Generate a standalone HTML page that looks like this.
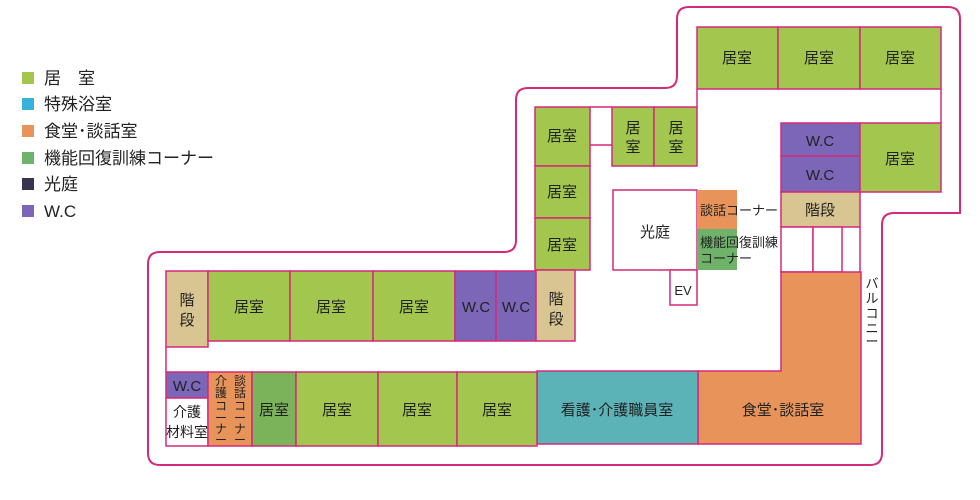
<!DOCTYPE html>
<html><head><meta charset="utf-8"><style>
body{margin:0;background:#fff;width:980px;height:500px;overflow:hidden}
svg{display:block}
text{font-family:"Liberation Sans","Noto Sans CJK JP",sans-serif;fill:#222}
</style></head><body>
<svg width="980" height="500" viewBox="0 0 980 500">
<g font-size="17">
<rect x="22" y="72" width="12" height="12" fill="#a3c64f"/><text x="44" y="84">居　室</text>
<rect x="22" y="98" width="12" height="12" fill="#3ab0dc"/><text x="44" y="110">特殊浴室</text>
<rect x="22" y="125" width="12" height="12" fill="#e8935a"/><text x="44" y="137">食堂･談話室</text>
<rect x="22" y="152" width="12" height="12" fill="#6fb36a"/><text x="44" y="164">機能回復訓練コーナー</text>
<rect x="22" y="178" width="12" height="12" fill="#3a3450"/><text x="44" y="190">光庭</text>
<rect x="22" y="205" width="12" height="12" fill="#7b66b8"/><text x="44" y="217">W.C</text>
</g>
<path d="M148,264 Q148,252 160,252 L504,252 Q516,252 516,240 L516,100 Q516,88 528,88 L665,88 Q677,88 677,76 L677,19 Q677,7 689,7 L948,7 Q960,7 960,19 L960,213 L894,213 Q882,213 882,225 L882,453 Q882,465 870,465 L160,465 Q148,465 148,453 Z" fill="none" stroke="#d42a7a" stroke-width="2"/>
<g stroke="#d42a7a" stroke-width="1.5">
<rect x="697" y="27" width="81" height="62" fill="#a3c64f"/>
<rect x="778" y="27" width="82" height="62" fill="#a3c64f"/>
<rect x="860" y="27" width="81" height="62" fill="#a3c64f"/>
<line x1="941" y1="89" x2="941" y2="123"/>
<line x1="697" y1="89" x2="697" y2="107"/>
<rect x="535" y="107" width="55" height="59" fill="#a3c64f"/>
<rect x="535" y="166" width="55" height="52" fill="#a3c64f"/>
<rect x="535" y="218" width="55" height="52" fill="#a3c64f"/>
<line x1="590" y1="107" x2="612" y2="107"/>
<line x1="590" y1="145" x2="612" y2="145"/>
<rect x="612" y="107" width="42" height="59" fill="#a3c64f"/>
<rect x="654" y="107" width="43" height="59" fill="#a3c64f"/>
<rect x="613" y="190" width="84" height="80" fill="#fff"/>
<rect x="670" y="270" width="27" height="35" fill="#fff"/>
<rect x="697" y="190" width="40" height="39" fill="#e8935a" stroke="none"/>
<rect x="697" y="229" width="40" height="41" fill="#6fb36a" stroke="none"/>
<rect x="781" y="123" width="79" height="33" fill="#7b66b8"/>
<rect x="781" y="156" width="79" height="36" fill="#7b66b8"/>
<rect x="860" y="123" width="81" height="69" fill="#a3c64f"/>
<rect x="781" y="192" width="79" height="35" fill="#d8c592"/>
<rect x="781" y="227" width="32" height="45" fill="#fff"/>
<rect x="813" y="227" width="29" height="45" fill="#fff"/>
<line x1="860" y1="227" x2="860" y2="272"/>
<path d="M781,272 L861,272 L861,444 L698,444 L698,371 L781,371 Z" fill="#e8935a"/>
<rect x="537" y="371" width="161" height="73" fill="#5bb3b8"/>
<rect x="166" y="271" width="42" height="76" fill="#d8c592"/>
<rect x="208" y="271" width="82" height="70" fill="#a3c64f"/>
<rect x="290" y="271" width="83" height="70" fill="#a3c64f"/>
<rect x="373" y="271" width="82" height="70" fill="#a3c64f"/>
<rect x="455" y="271" width="41" height="70" fill="#7b66b8"/>
<rect x="496" y="271" width="40" height="70" fill="#7b66b8"/>
<rect x="536" y="270" width="39" height="71" fill="#d8c592"/>
<line x1="166" y1="347" x2="166" y2="372"/>
<rect x="166" y="372" width="42" height="26" fill="#7b66b8"/>
<rect x="166" y="398" width="42" height="48" fill="#fff"/>
<rect x="208" y="372" width="44" height="74" fill="#e8935a"/>
<rect x="252" y="372" width="44" height="74" fill="#7ab35a"/>
<rect x="296" y="372" width="82" height="74" fill="#a3c64f"/>
<rect x="378" y="372" width="79" height="74" fill="#a3c64f"/>
<rect x="457" y="372" width="80" height="74" fill="#a3c64f"/>
</g>
<g font-size="15" text-anchor="middle">
<text x="737" y="63">居室</text><text x="819" y="63">居室</text><text x="900" y="63">居室</text>
<text x="562" y="141">居室</text><text x="562" y="197">居室</text><text x="562" y="250">居室</text>
<text x="633" y="133">居</text><text x="633" y="152">室</text>
<text x="676" y="133">居</text><text x="676" y="152">室</text>
<text x="655" y="237">光庭</text>
<text x="683" y="295" font-size="13">EV</text>
<text x="820" y="146">W.C</text><text x="820" y="180">W.C</text>
<text x="900" y="164">居室</text>
<text x="820" y="215">階段</text>
<text x="783" y="415">食堂･談話室</text>
<text x="617" y="415">看護･介護職員室</text>
<text x="187" y="305">階</text><text x="187" y="325">段</text>
<text x="249" y="312">居室</text><text x="331" y="312">居室</text><text x="414" y="312">居室</text>
<text x="476" y="312">W.C</text><text x="516" y="312">W.C</text>
<text x="556" y="304">階</text><text x="556" y="324">段</text>
<text x="187" y="391">W.C</text>
<text x="187" y="417" font-size="14">介護</text><text x="187" y="437" font-size="14">材料室</text>
<text x="274" y="415">居室</text><text x="337" y="415">居室</text><text x="417" y="415">居室</text><text x="497" y="415">居室</text>
</g>
<g font-size="13">
<text x="700" y="215">談話コーナー</text>
<text x="700" y="247">機能回復訓練</text>
<text x="700" y="263">コーナー</text>
</g>
<g font-size="12" text-anchor="middle">
<text x="221" y="385">介</text><text x="221" y="397">護</text><text x="221" y="410">コ</text><text x="221" y="422">ー</text><text x="221" y="433">ナ</text><text x="221" y="444">ー</text>
<text x="240" y="385">談</text><text x="240" y="397">話</text><text x="240" y="410">コ</text><text x="240" y="422">ー</text><text x="240" y="433">ナ</text><text x="240" y="444">ー</text>
<text x="872" y="288" font-size="13">バ</text><text x="872" y="303" font-size="13">ル</text><text x="872" y="318" font-size="13">コ</text><text x="872" y="333" font-size="13">ニ</text><text x="872" y="346" font-size="13">ー</text>
</g>
</svg>
</body></html>
